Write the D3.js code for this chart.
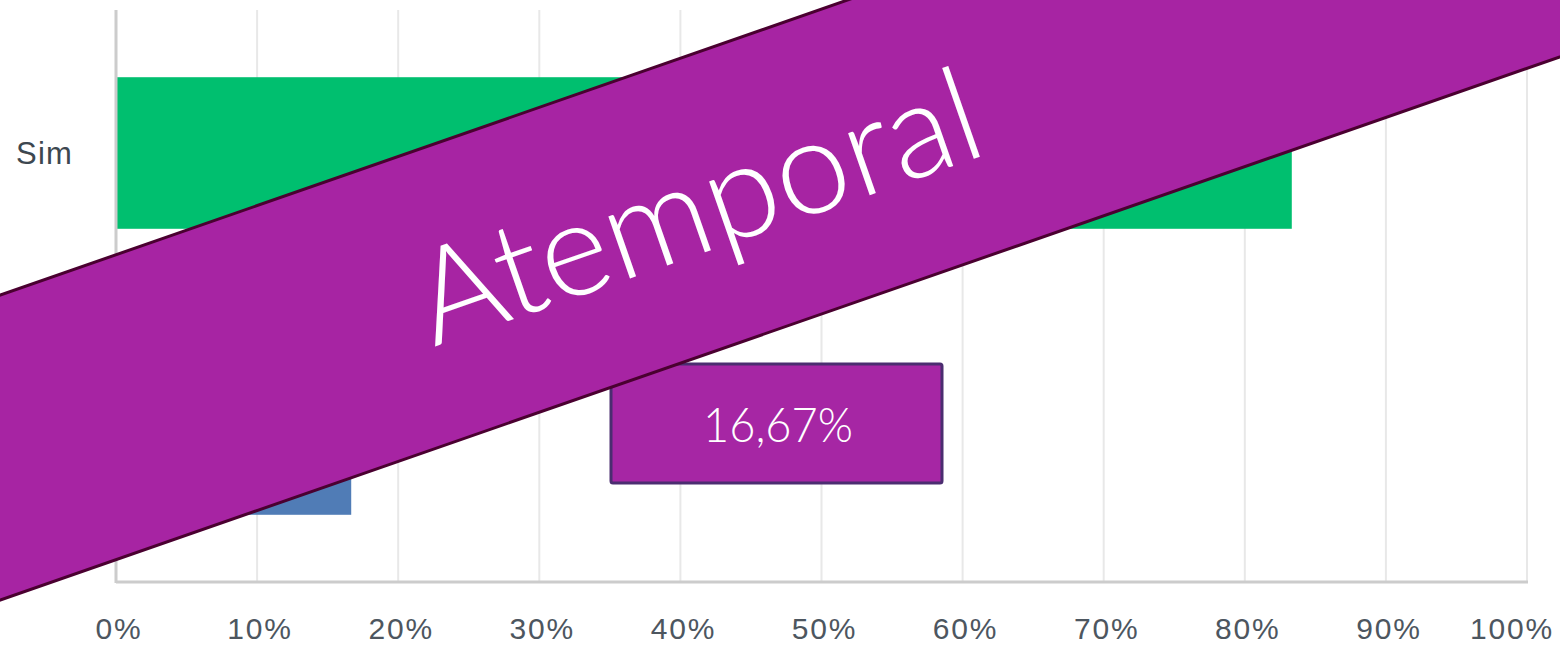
<!DOCTYPE html>
<html>
<head>
<meta charset="utf-8">
<script src="https://cdn.jsdelivr.net/npm/d3@7"></script>
<style>
  html, body { margin: 0; padding: 0; background: #ffffff; }
  svg { display: block; }
</style>
</head>
<body>
<svg id="chart"></svg>
<script>
// data
var categories = ["Sim", "Não"];
var values = [83.33, 16.67];
var barColors = ["#00BF6F", "#507CB6"];
var tickValues = [0, 10, 20, 30, 40, 50, 60, 70, 80, 90, 100];
var calloutText = "16,67%";
var stampText = "Atemporal";

var width = 1560, height = 646;
var margin = { top: 10, left: 116, right: 33, bottom: 64 };

var svg = d3.select("#chart").attr("width", width).attr("height", height);

var x = d3.scaleLinear().domain([0, 100]).range([margin.left, width - margin.right]);
var y = d3.scaleBand().domain(categories)
    .range([margin.top, height - margin.bottom])
    .paddingInner(0.47).paddingOuter(0.235);

// gridlines
svg.append("g").selectAll("line")
    .data(tickValues.slice(1))
    .join("line")
    .attr("x1", d => x(d)).attr("x2", d => x(d))
    .attr("y1", margin.top).attr("y2", height - margin.bottom)
    .attr("stroke", "#e8e8e8")
    .attr("stroke-width", 2);

// bars
svg.append("g").selectAll("rect")
    .data(values)
    .join("rect")
    .attr("x", x(0) + 1)
    .attr("y", (d, i) => y(categories[i]))
    .attr("width", d => x(d) - x(0) - 1)
    .attr("height", y.bandwidth())
    .attr("fill", (d, i) => barColors[i]);

// axis lines
svg.append("line")
    .attr("x1", x(0)).attr("x2", x(0))
    .attr("y1", margin.top).attr("y2", height - margin.bottom + 1)
    .attr("stroke", "#cccccc").attr("stroke-width", 3);
svg.append("line")
    .attr("x1", x(0)).attr("x2", x(100) + 1)
    .attr("y1", height - margin.bottom).attr("y2", height - margin.bottom)
    .attr("stroke", "#cccccc").attr("stroke-width", 3);

// x tick labels (the last one is kept inside the right edge)
svg.append("g").selectAll("text")
    .data(tickValues)
    .join("text")
    .attr("x", d => d === 100 ? 1554 : x(d) + 3)
    .attr("y", 639)
    .attr("text-anchor", d => d === 100 ? "end" : "middle")
    .attr("font-family", "'Liberation Sans', Arial, sans-serif")
    .attr("font-size", 30)
    .attr("letter-spacing", 1.8)
    .attr("fill", "#4d565f")
    .text(d => d + "%");

// category labels
svg.append("g").selectAll("text")
    .data(categories)
    .join("text")
    .attr("x", 73)
    .attr("y", d => y(d) + y.bandwidth() / 2 + 11)
    .attr("text-anchor", "end")
    .attr("font-family", "'Liberation Sans', Arial, sans-serif")
    .attr("font-size", 31)
    .attr("letter-spacing", 1.2)
    .attr("fill", "#3d4750")
    .text(d => d);

// callout box for the second value
var box = svg.append("g");
box.append("rect")
    .attr("x", 611).attr("y", 364)
    .attr("width", 331).attr("height", 119)
    .attr("rx", 2)
    .attr("fill", "#A626A4")
    .attr("stroke", "#4B2D70")
    .attr("stroke-width", 3);
box.append("text")
    .attr("x", 778).attr("y", 442)
    .attr("text-anchor", "middle")
    .attr("font-family", "Lato, 'Open Sans', sans-serif")
    .attr("font-weight", 300)
    .attr("font-size", 48)
    .attr("textLength", 150)
    .attr("lengthAdjust", "spacingAndGlyphs")
    .attr("fill", "#ffffff")
    .text(calloutText);

// diagonal stamp
var angle = -19.2;
var stamp = svg.append("g")
    .attr("transform", "translate(780,176) rotate(" + angle + ")");
stamp.append("rect")
    .attr("x", -1300).attr("y", -144)
    .attr("width", 2600).attr("height", 288)
    .attr("fill", "#A724A3")
    .attr("stroke", "#4A0030")
    .attr("stroke-width", 3);

svg.append("text")
    .attr("transform", "translate(712,250) rotate(" + angle + ")")
    .attr("text-anchor", "middle")
    .attr("font-family", "Lato, 'Open Sans', sans-serif")
    .attr("font-weight", 300)
    .attr("font-size", 132)
    .attr("textLength", 590)
    .attr("lengthAdjust", "spacingAndGlyphs")
    .attr("fill", "#ffffff")
    .text(stampText);
</script>
</body>
</html>
